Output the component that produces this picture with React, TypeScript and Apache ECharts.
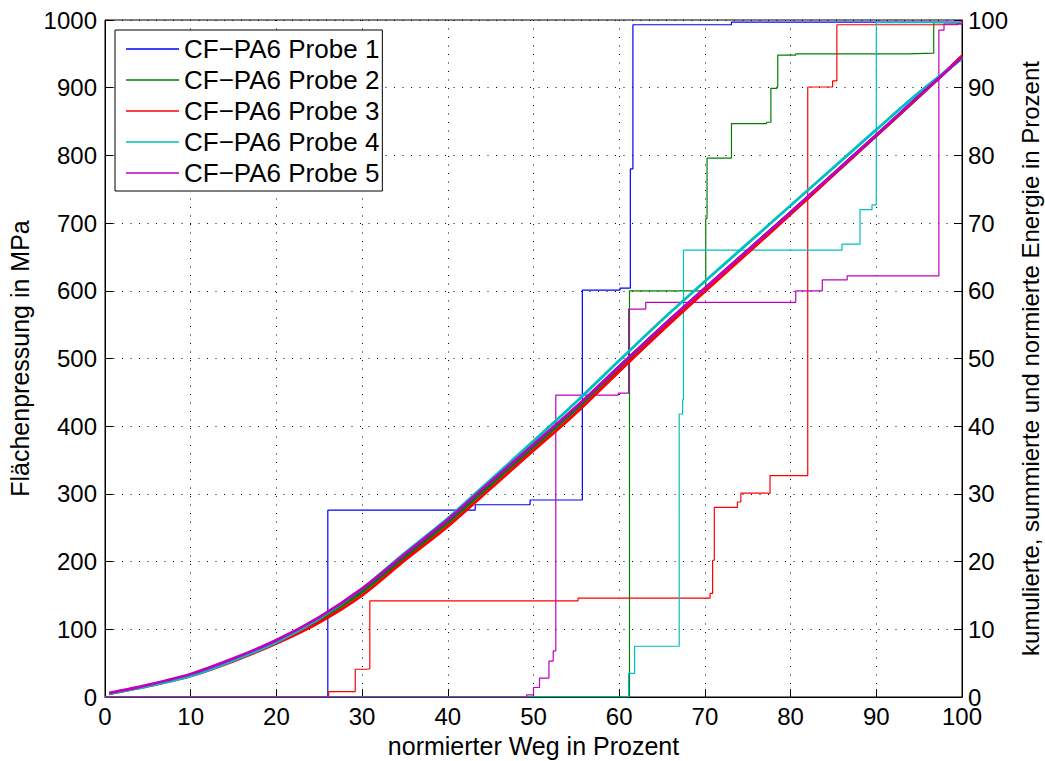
import React, { useEffect, useRef } from "react";
import * as echarts from "echarts";

const probeNames = ["CF−PA6 Probe 1", "CF−PA6 Probe 2", "CF−PA6 Probe 3", "CF−PA6 Probe 4", "CF−PA6 Probe 5"];
const probeColors = ["#0000FF", "#008000", "#FF0000", "#00BFBF", "#BF00BF"];

const xTicks = [0, 10, 20, 30, 40, 50, 60, 70, 80, 90, 100];

// Flächenpressung (MPa) over normierter Weg (%)
const weg = [0.5, 5, 10, 15, 20, 25, 30, 35, 40, 45, 50, 55, 60, 65, 70, 75, 80, 85, 90, 95, 100];
const druckP1 = [5, 17, 32, 55, 82, 116, 158, 209, 260, 316, 372, 428, 488, 547, 603, 660, 716, 773, 830, 888, 945];
const druckP2 = [5, 17, 32, 55, 81, 114, 155, 206, 257, 313, 369, 425, 486, 545, 602, 659, 715, 772, 829, 887, 946];
const druckP3 = [5, 16, 31, 53, 79, 110, 150, 202, 252, 308, 364, 420, 481, 541, 599, 656, 713, 771, 829, 887, 947];
const druckP4 = [5, 16, 31, 54, 81, 116, 160, 213, 264, 321, 378, 436, 497, 557, 614, 670, 726, 782, 838, 893, 943];
const druckP5 = [6, 18, 34, 57, 84, 118, 160, 211, 262, 318, 373, 429, 488, 547, 604, 660, 716, 773, 830, 888, 945];

// kumulierte Energie (%) steps: [Weg, Energie]
const energieP1 = [[0, 0], [26.0, 27.6], [43.2, 28.4], [49.6, 29.1], [55.7, 60.1], [60.1, 60.4], [61.3, 78.0], [61.6, 99.3], [73.1, 99.7], [100, 99.9]];
const energieP2 = [[0, 0], [61.2, 60.0], [70.1, 70.7], [70.25, 79.6], [73.1, 84.7], [77.2, 84.9], [77.7, 89.9], [78.4, 90.1], [78.5, 94.8], [80.6, 95.0], [93.7, 95.1], [96.7, 99.6], [100, 99.7]];
const energieP3 = [[0, 0], [26.1, 0.8], [29.2, 4.1], [30.7, 4.2], [30.9, 14.2], [55.2, 14.6], [70.6, 15.3], [70.9, 20.2], [71.1, 28.0], [73.8, 28.8], [74.2, 30.1], [77.6, 32.7], [82.0, 90.1], [84.9, 91.0], [85.4, 99.3], [99.5, 99.5], [100, 100]];
const energieP4 = [[0, 0], [61.1, 3.5], [61.8, 7.5], [67.0, 41.8], [67.4, 43.9], [67.5, 66.0], [86.0, 66.9], [88.1, 72.0], [89.5, 72.7], [90.0, 99.6], [100, 99.7]];
const energieP5 = [[0, 0], [49.2, 0.3], [50.0, 1.4], [50.7, 2.8], [51.8, 5.3], [52.3, 6.8], [52.6, 44.6], [59.9, 44.9], [61.1, 57.3], [63.1, 58.3], [80.6, 60.0], [83.7, 61.6], [86.6, 62.2], [97.3, 98.5], [97.9, 99.4], [100, 99.6]];

const druck = [druckP1, druckP2, druckP3, druckP4, druckP5];
const energie = [energieP1, energieP2, energieP3, energieP4, energieP5];

const FONT = "'Liberation Sans', Arial, sans-serif";

export default function App() {
  const ref = useRef<HTMLDivElement>(null);
  useEffect(() => {
    if (!ref.current) return;
    const chart = echarts.init(ref.current, null, { renderer: "svg" });
    const series: any[] = [];
    probeNames.forEach((name, i) => {
      series.push({
        name,
        type: "line",
        yAxisIndex: 0,
        data: weg.map((x, k) => [x, druck[i][k]]),
        showSymbol: false,
        symbol: "none",
        smooth: 0.3,
        lineStyle: { color: probeColors[i], width: 2.8 },
        itemStyle: { color: probeColors[i] },
        z: 3,
      });
    });
    probeNames.forEach((name, i) => {
      series.push({
        name,
        type: "line",
        yAxisIndex: 1,
        step: "end",
        data: energie[i],
        showSymbol: false,
        symbol: "none",
        lineStyle: { color: probeColors[i], width: 1.2 },
        itemStyle: { color: probeColors[i] },
        z: 2,
      });
    });
    const tickStyle = { color: "#000", fontSize: 24, fontFamily: FONT };
    const nameStyle = { color: "#000", fontSize: 24, fontFamily: FONT };
    const fmt = (v: number) => String(v);
    chart.setOption({
      animation: false,
      backgroundColor: "#fff",
      grid: {
        left: 105, right: 83, top: 20, bottom: 64,
        containLabel: false, outerBoundsMode: "none",
        show: true, borderColor: "#000", borderWidth: 1,
      },
      legend: {
        orient: "vertical",
        left: 115,
        top: 30,
        data: probeNames.map((n) => ({ name: n, icon: "rect" })),
        itemWidth: 53,
        itemHeight: 1.5,
        itemGap: 5,
        padding: [6, 3, 5, 11],
        borderColor: "#000",
        borderWidth: 1,
        backgroundColor: "#fff",
        textStyle: { color: "#000", fontSize: 26, lineHeight: 26, fontFamily: FONT },
      },
      xAxis: {
        type: "value",
        min: 0,
        max: 100,
        interval: 10,
        name: "normierter Weg in Prozent",
        nameLocation: "middle",
        nameGap: 36,
        nameTextStyle: { ...nameStyle, fontSize: 25 },
        axisLine: { lineStyle: { color: "#000", width: 1 } },
        axisTick: { inside: true, length: 8, lineStyle: { color: "#000" } },
        axisLabel: { ...tickStyle, margin: 7, formatter: (v: number) => (xTicks.includes(v) ? String(v) : "") },
        splitLine: { show: true, lineStyle: { color: "#000", type: [1, 7.5], width: 1 } },
      },
      yAxis: [
        {
          type: "value",
          min: 0,
          max: 1000,
          interval: 100,
          position: "left",
          name: "Flächenpressung in MPa",
          nameLocation: "middle",
          nameGap: 70,
          nameTextStyle: { ...nameStyle, fontSize: 25 },
          axisLine: { show: true, lineStyle: { color: "#000", width: 1 } },
          axisTick: { show: true, inside: true, length: 8, lineStyle: { color: "#000" } },
          axisLabel: { ...tickStyle, margin: 8, formatter: fmt },
          splitLine: { show: true, lineStyle: { color: "#000", type: [1, 7.5], width: 1 } },
        },
        {
          type: "value",
          min: 0,
          max: 100,
          interval: 10,
          position: "right",
          name: "kumulierte, summierte und normierte Energie in Prozent",
          nameLocation: "middle",
          nameGap: 54,
          nameTextStyle: nameStyle,
          axisLine: { show: true, lineStyle: { color: "#000", width: 1 } },
          axisTick: { show: true, inside: true, length: 8, lineStyle: { color: "#000" } },
          axisLabel: { ...tickStyle, margin: 6, formatter: fmt },
          splitLine: { show: false },
        },
      ],
      series,
    });
    return () => chart.dispose();
  }, []);
  return <div ref={ref} style={{ position: "absolute", left: 0, top: 0, width: 1045, height: 761 }} />;
}
